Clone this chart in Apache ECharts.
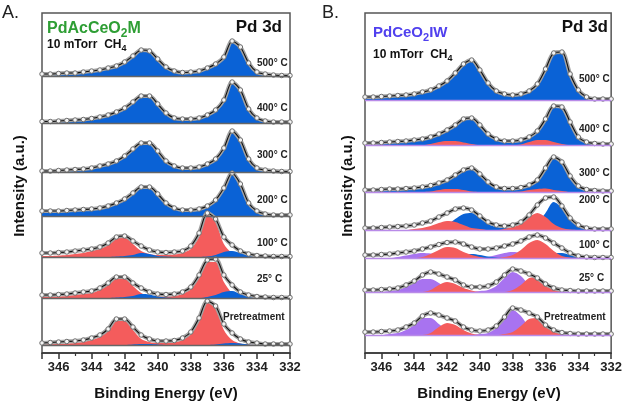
<!DOCTYPE html>
<html>
<head>
<meta charset="utf-8">
<script src="https://cdn.jsdelivr.net/npm/echarts@6/dist/echarts.min.js"></script>
<style>
  html, body { margin: 0; background: #fff; }
  #chart { width: 625px; height: 404px; }
</style>
</head>
<body>
<div id="chart"></div>
<script>
// binding energy grid (eV), 347 -> 332
var energy = [347, 346.5, 346, 345.5, 345, 344.5, 344, 343.5, 343, 342.5, 342, 341.5, 341, 340.5, 340,
  339.5, 339, 338.5, 338, 337.5, 337, 336.5, 336, 335.5, 335, 334.5, 334, 333.5, 333, 332.5, 332];

var tempLabels = ['500° C', '400° C', '300° C', '200° C', '100° C', '25° C', 'Pretreatment'];

// stack offset of each spectrum (a.u.), top to bottom
var offsetsA = [277, 230, 181, 137, 96, 55, 8];
var offsetsB = [253, 208, 161, 123, 95, 61, 18];

// ---- panel A : PdAcCeO2M ----
var a500Fit = [2, 2, 2.5, 3, 3, 4, 5, 6, 8, 10, 14, 20, 26, 25, 17, 9, 5, 3.5, 4, 5, 8, 12, 19, 35, 29, 13, 4, 2, 1, 0.5, 0.5];
var a400Fit = [1.5, 1.5, 2, 2.5, 3, 3.5, 4.5, 6, 8, 11, 15, 21, 27, 27, 19, 10, 5, 4, 4, 5, 8, 13, 23, 41, 33, 14, 5, 2, 1, 1, 1];
var a300Fit = [1, 1, 1.5, 2, 2.5, 3, 4, 6, 8, 11, 16, 23, 29, 29, 21, 11, 6, 4, 4, 5, 8, 13, 24, 41, 32, 13, 4, 2, 1, 0.5, 0.5];
var a200Fit = [5, 5, 5, 5.5, 6, 6.5, 7, 8, 10, 13, 17, 23, 29, 29, 22, 13, 8, 6, 6, 7, 10, 16, 28, 43, 32, 13, 5, 2, 1, 1, 1];
var a100Fit = [4, 4, 4.5, 5, 6, 7, 8, 10, 14, 20, 21, 16, 11, 7, 5, 4.5, 5, 6, 11, 24, 44, 38, 20, 12, 6, 3, 1.5, 1, 0.5, 0.5, 0.5];
var a100Red = [1, 1, 1.5, 2, 3, 4, 6, 8, 12, 19, 20, 13, 6, 3, 2, 2, 2.5, 4, 8, 20, 43, 35, 13, 4, 1, 0.5, 0, 0, 0, 0, 0];
var a100Blue = [0, 0, 0, 0, 0, 0, 0, 0, 0, 0.5, 1, 2, 4, 3, 1, 0.5, 0, 0, 0, 0, 0.5, 2, 5, 6, 4, 1.5, 0.5, 0, 0, 0, 0];
var a25Fit = [3, 3, 3.5, 4, 5, 6, 7, 10, 15, 21, 21, 15, 10, 6, 4, 3.5, 4, 6, 11, 23, 38, 39, 23, 13, 6, 3, 1.5, 1, 0.5, 0.5, 0.5];
var a25Red = [1, 1, 1.5, 2, 3, 4, 5, 8, 13, 20, 20, 12, 5, 2, 1.5, 1.5, 2, 4, 9, 21, 36, 36, 16, 5, 1.5, 0.5, 0, 0, 0, 0, 0];
var a25Blue = [0, 0, 0, 0, 0, 0, 0, 0, 0, 0.5, 1, 2, 4, 3.5, 1.5, 0.5, 0, 0, 0, 0, 1, 3, 6, 7, 4, 1.5, 0.5, 0, 0, 0, 0];
var aPreFit = [2, 2.5, 3, 3.5, 4, 5, 7, 10, 16, 26, 26, 18, 10, 6, 4, 4, 4.5, 7, 13, 27, 44, 39, 21, 12, 6, 3, 2, 1, 1, 1, 1];
var aPreRed = [0.5, 1, 1, 1.5, 2, 3, 5, 8, 14, 24, 25, 15, 6, 3, 2, 2, 2.5, 5, 11, 25, 43, 37, 15, 5, 1.5, 0.5, 0, 0, 0, 0, 0];
var aPreBlue = [0, 0, 0, 0, 0, 0, 0, 0, 0, 0, 0, 0.5, 1, 1, 0.5, 0, 0, 0, 0, 0, 0, 0.5, 1.5, 2, 1.5, 0.5, 0, 0, 0, 0, 0];

// ---- panel B : PdCeO2IW ----
var b500Fit = [3, 3, 3.5, 4, 4.5, 5, 6, 8, 10, 14, 19, 27, 36, 40, 30, 17, 9, 6, 5, 6, 9, 16, 31, 47, 48, 26, 10, 3, 1, 1, 1];
var b400Fit = [2, 2, 2.5, 3, 3.5, 4, 5, 6, 8, 11, 15, 20, 26, 27, 20, 11, 6, 4, 4, 5, 8, 14, 26, 39, 38, 23, 8, 3, 1.5, 1, 1];
var b400Red = [0, 0, 0, 0, 0, 0, 0, 0, 1, 3, 4, 4, 2.5, 1, 0, 0, 0, 0, 0, 0.5, 3, 5, 5, 3, 1, 0, 0, 0, 0, 0, 0];
var b300Fit = [2, 2, 2.5, 3, 3, 3.5, 4, 5, 6.5, 9, 12, 17, 22, 24, 18, 10, 5, 3.5, 3.5, 4.5, 7, 12, 24, 35, 30, 16, 6, 2.5, 1.5, 1, 1];
var b300Red = [0, 0, 0, 0, 0, 0, 0, 0, 0.5, 2, 3, 3, 2, 0.5, 0, 0, 0, 0, 0, 0.5, 2, 3, 3.5, 2, 1, 0, 0, 0, 0, 0, 0];
var b200Fit = [2, 2, 2.5, 3, 3.5, 4, 5, 7, 9, 13, 17, 21, 22, 20, 14, 8, 5, 4, 5, 8, 15, 25, 32, 33, 24, 12, 5, 2, 1, 1, 1];
var b200Blue = [0, 0, 0, 0, 0, 0, 0, 0, 0.5, 2, 5, 11, 16, 17, 12, 6, 3, 2, 1.5, 2, 3, 7, 17, 28, 22, 11, 4, 1.5, 0.5, 0, 0];
var b200Red = [0, 0, 0, 0, 0, 0, 1, 2, 4, 7, 9, 8, 5, 2, 1, 0, 0, 1, 3, 6, 13, 17, 13, 6, 2, 0.5, 0, 0, 0, 0, 0];
var b100Fit = [3, 3, 3.5, 4, 5, 6, 7, 9, 11, 13.5, 15.5, 16, 14, 11, 9, 9, 10, 12, 14, 17, 21, 23, 20, 15, 10, 5, 2, 1, 0.5, 0.5, 0.5];
var b100Purple = [0, 0, 0, 0, 1, 2.5, 4, 5, 4.5, 3, 1.5, 0.5, 0, 0, 0, 1, 3, 5, 6, 5, 2.5, 1, 0, 0, 0, 0, 0, 0, 0, 0, 0];
var b100Red = [0, 0, 0, 0, 0, 0, 0, 1, 4, 8, 11, 10, 6, 3, 1, 0, 0, 1, 3, 8, 15, 18, 14, 7, 2, 0.5, 0, 0, 0, 0, 0];
var b100Blue = [0, 0, 0, 0, 0, 0, 0, 0, 0, 0, 0, 1, 3, 4, 3, 1.5, 0.5, 0, 0, 0, 0, 1, 3, 5, 5, 3, 1, 0, 0, 0, 0];
var b25Fit = [2, 2, 2.5, 3, 4, 7, 11, 17, 20, 18, 15, 12, 7, 5, 5, 6, 10, 17, 23, 21, 18, 14, 8, 4, 2, 1.5, 1, 1, 1, 1, 1];
var b25Purple = [0, 0, 0, 1, 2, 5, 9, 13, 13, 9, 4, 1.5, 0.5, 0, 1, 2, 6, 14, 20, 16, 7, 2, 0.5, 0, 0, 0, 0, 0, 0, 0, 0];
var b25Red = [0, 0, 0, 0, 0, 0, 0, 0, 2, 7, 10, 8, 4, 1.5, 0, 0, 0, 0, 2, 7, 14, 15, 9, 3, 1, 0, 0, 0, 0, 0, 0];
var bPreFit = [3, 3, 3.5, 4, 5, 8, 12, 19, 22, 20, 17, 14, 8, 5, 4, 5, 9, 18, 27, 25, 22, 18, 10, 5, 2.5, 1.5, 1, 1, 1, 1, 1];
var bPrePurple = [0, 0, 0, 1, 2, 5, 10, 17, 17, 11, 5, 2, 0.5, 0, 1, 2, 7, 17, 25, 19, 8, 2.5, 0.5, 0, 0, 0, 0, 0, 0, 0, 0];
var bPreRed = [0, 0, 0, 0, 0, 0, 0, 0, 2, 8, 12, 10, 5, 1.5, 0, 0, 0, 1, 3, 9, 16, 17, 10, 3.5, 1, 0, 0, 0, 0, 0, 0];

var BLUE = '#0a62d6', RED = '#f45c5c', PURPLE = '#a873f0';

var panelA = [
  { fit: a500Fit, fills: [[a500Fit, BLUE]] },
  { fit: a400Fit, fills: [[a400Fit, BLUE]] },
  { fit: a300Fit, fills: [[a300Fit, BLUE]] },
  { fit: a200Fit, fills: [[a200Fit, BLUE]] },
  { fit: a100Fit, fills: [[a100Red, RED], [a100Blue, BLUE]] },
  { fit: a25Fit, fills: [[a25Red, RED], [a25Blue, BLUE]] },
  { fit: aPreFit, fills: [[aPreRed, RED], [aPreBlue, BLUE]] }
];
var panelB = [
  { fit: b500Fit, fills: [[b500Fit, BLUE]] },
  { fit: b400Fit, fills: [[b400Fit, BLUE], [b400Red, RED]] },
  { fit: b300Fit, fills: [[b300Fit, BLUE], [b300Red, RED]] },
  { fit: b200Fit, fills: [[b200Blue, BLUE], [b200Red, RED]] },
  { fit: b100Fit, fills: [[b100Purple, PURPLE], [b100Blue, BLUE], [b100Red, RED]] },
  { fit: b25Fit, fills: [[b25Purple, PURPLE], [b25Red, RED]] },
  { fit: bPreFit, fills: [[bPrePurple, PURPLE], [bPreRed, RED]] }
];

function pts(vals, off) {
  return energy.map(function (e, i) { return [e, off + vals[i]]; });
}

var series = [];
[panelA, panelB].forEach(function (panel, p) {
  var offs = p === 0 ? offsetsA : offsetsB;
  panel.forEach(function (s, k) {
    var off = offs[k];
    s.fills.forEach(function (f) {
      series.push({
        type: 'line', xAxisIndex: p, yAxisIndex: p, data: pts(f[0], off),
        smooth: 0.3, symbol: 'none', silent: true,
        lineStyle: { width: 0 },
        areaStyle: { color: f[1], opacity: 1, origin: off }
      });
    });
    // measured points
    series.push({
      type: 'line', xAxisIndex: p, yAxisIndex: p, data: pts(s.fit, off),
      smooth: 0.3, symbol: 'circle', symbolSize: 4.5, showAllSymbol: true, silent: true,
      lineStyle: { color: '#a2a2a2', width: 4 },
      itemStyle: { color: '#f4f4f4', borderColor: '#6e6e6e', borderWidth: 1 },
      markLine: {
        silent: true, symbol: 'none', label: { show: false },
        lineStyle: { color: p === 0 ? '#666' : '#b98be8', width: 1.3, type: 'solid' },
        data: [{ yAxis: off }]
      }
    });
    // fitted envelope
    series.push({
      type: 'line', xAxisIndex: p, yAxisIndex: p, data: pts(s.fit, off),
      smooth: 0.3, symbol: 'none', silent: true,
      lineStyle: { color: '#111', width: 1.1 }
    });
  });
});

function xAxisFor(i) {
  return {
    gridIndex: i, type: 'value', min: 332, max: 347, interval: 2, inverse: true,
    axisLine: { show: true, onZero: false, lineStyle: { color: '#333', width: 1.5 } },
    axisTick: { show: true, length: 6, lineStyle: { color: '#333', width: 1.5 } },
    minorTick: { show: true, splitNumber: 2, length: 3, lineStyle: { color: '#333', width: 1.2 } },
    splitLine: { show: false },
    axisLabel: {
      showMaxLabel: false, margin: 8, color: '#222', fontSize: 13, fontWeight: 'bold',
      fontFamily: 'Liberation Sans'
    }
  };
}
function yAxisFor(i) {
  return { gridIndex: i, type: 'value', min: 0, max: 340, show: false, splitLine: { show: false } };
}

var F = 'Liberation Sans';
function subText(x, y, main, sub, tail, size, subSize, color, lh) {
  return {
    type: 'text', x: x, y: y, style: {
      text: '{m|' + main + '}{s|' + sub + '}' + (tail ? '{m|' + tail + '}' : ''), textVerticalAlign: 'middle',
      rich: {
        m: { fontSize: size, fontWeight: 'bold', fontFamily: F, fill: color, lineHeight: lh, verticalAlign: 'top' },
        s: { fontSize: subSize, fontWeight: 'bold', fontFamily: F, fill: color, lineHeight: lh, verticalAlign: 'bottom' }
      }
    }
  };
}
var graphic = [
  { type: 'text', x: 2, y: 13, style: { text: 'A.', font: '18px ' + F, fill: '#222', textVerticalAlign: 'middle' } },
  { type: 'text', x: 322, y: 13, style: { text: 'B.', font: '18px ' + F, fill: '#222', textVerticalAlign: 'middle' } },
  { type: 'text', x: 282, y: 27, style: { text: 'Pd 3d', font: 'bold 17px ' + F, fill: '#111', textAlign: 'right', textVerticalAlign: 'middle' } },
  { type: 'text', x: 608, y: 27, style: { text: 'Pd 3d', font: 'bold 17px ' + F, fill: '#111', textAlign: 'right', textVerticalAlign: 'middle' } },
  subText(47, 30, 'PdAcCeO', '2', 'M', 16, 12, '#2e9e34', 19),
  subText(47, 46, '10 mTorr  CH', '4', '', 12, 9, '#111', 15),
  subText(373, 34, 'PdCeO', '2', 'IW', 15, 11, '#5040ee', 18),
  subText(373, 56, '10 mTorr  CH', '4', '', 12, 9, '#111', 15),
  { type: 'text', x: 20, y: 186, rotation: Math.PI / 2, style: { text: 'Intensity (a.u.)', font: 'bold 15px ' + F, fill: '#111', textAlign: 'center', textVerticalAlign: 'middle' } },
  { type: 'text', x: 348, y: 186, rotation: Math.PI / 2, style: { text: 'Intensity (a.u.)', font: 'bold 15px ' + F, fill: '#111', textAlign: 'center', textVerticalAlign: 'middle' } },
  { type: 'text', x: 166, y: 394, style: { text: 'Binding Energy (eV)', font: 'bold 15px ' + F, fill: '#111', textAlign: 'center', textVerticalAlign: 'middle' } },
  { type: 'text', x: 489, y: 394, style: { text: 'Binding Energy (eV)', font: 'bold 15px ' + F, fill: '#111', textAlign: 'center', textVerticalAlign: 'middle' } }
];

var labelYA = [63, 108, 155, 200, 243, 279, 317];
var labelYB = [79, 129, 173, 200, 245, 278, 317];
tempLabels.forEach(function (t, k) {
  var pre = k === tempLabels.length - 1;
  graphic.push({ type: 'text', x: pre ? 223 : 257, y: labelYA[k], style: { text: t, font: 'bold 10px ' + F, fill: '#222', textVerticalAlign: 'middle' } });
  graphic.push({ type: 'text', x: pre ? 544 : 579, y: labelYB[k], style: { text: t, font: 'bold 10px ' + F, fill: '#222', textVerticalAlign: 'middle' } });
});

var chart = echarts.init(document.getElementById('chart'));
chart.setOption({
  animation: false,
  backgroundColor: '#fff',
  grid: [
    { left: 42, top: 13, width: 248, height: 340, show: true, borderColor: '#555', borderWidth: 1.5, backgroundColor: 'transparent' },
    { left: 365, top: 13, width: 248, height: 340, show: true, borderColor: '#555', borderWidth: 1.5, backgroundColor: 'transparent' }
  ],
  xAxis: [xAxisFor(0), xAxisFor(1)],
  yAxis: [yAxisFor(0), yAxisFor(1)],
  series: series,
  graphic: graphic
});
</script>
</body>
</html>
